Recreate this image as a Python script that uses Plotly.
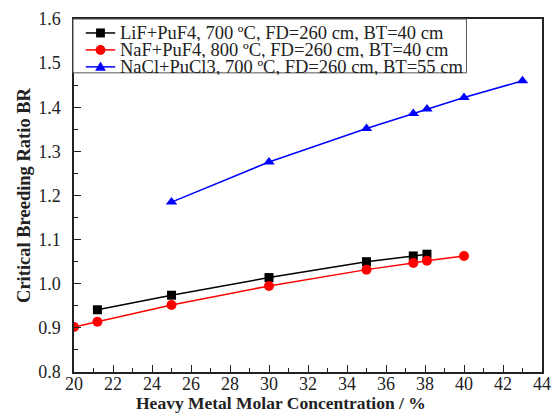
import plotly.graph_objects as go

# Heavy metal molar concentration (%) and critical breeding ratio per salt system
lif_x = [21.2, 25, 30, 35, 37.4, 38.1]
lif_br = [0.941, 0.974, 1.014, 1.050, 1.063, 1.067]

naf_x = [20, 21.2, 25, 30, 35, 37.4, 38.1, 40]
naf_br = [0.902, 0.914, 0.952, 0.995, 1.032, 1.047, 1.052, 1.063]

nacl_x = [25, 30, 35, 37.4, 38.1, 40, 43]
nacl_br = [1.185, 1.276, 1.352, 1.386, 1.396, 1.422, 1.460]

names = [
    "LiF+PuF4, 700 ºC, FD=260 cm, BT=40 cm",
    "NaF+PuF4, 800 ºC, FD=260 cm, BT=40 cm",
    "NaCl+PuCl3, 700 ºC, FD=260 cm, BT=55 cm",
]
colors = ["black", "red", "blue"]
symbols = ["square", "circle", "triangle-up"]

FONT = "Liberation Serif, Times New Roman, serif"
INK = "#222"

W, H = 560, 413
L, R, T, B = 74, 9, 18, 41
PW, PH = W - L - R, H - T - B


def px(xp):
    """Horizontal pixel position -> paper fraction of the plot area."""
    return (xp - L) / PW


def py(yp):
    """Vertical pixel position (from top) -> paper fraction of the plot area."""
    return (H - B - yp) / PH


fig = go.Figure()
series = [(lif_x, lif_br, 9), (naf_x, naf_br, 10), (nacl_x, nacl_br, 10)]
for (xs, ys, ms), name, c, sym in zip(series, names, colors, symbols):
    fig.add_trace(go.Scatter(x=xs, y=ys, mode="lines+markers", name=name,
                             line=dict(color=c, width=1.5),
                             marker=dict(symbol=sym, size=ms, color=c),
                             showlegend=False))

# Hand-built legend box in the upper-left corner of the plot area
shapes = [dict(type="rect", xref="paper", yref="paper",
               x0=px(73), x1=px(474), y0=py(72), y1=py(18),
               line=dict(color="#555", width=1), fillcolor="white", layer="above")]
annotations = []
row_y = [32, 49, 66]
for i, (name, c) in enumerate(zip(names, colors)):
    yc = row_y[i]
    shapes.append(dict(type="line", xref="paper", yref="paper",
                       x0=px(86), x1=px(116), y0=py(yc), y1=py(yc),
                       line=dict(color=c, width=1.5), layer="above"))
    mx = 101
    if symbols[i] == "square":
        shapes.append(dict(type="rect", xref="paper", yref="paper",
                           x0=px(mx - 4.5), x1=px(mx + 4.5), y0=py(yc + 4.5), y1=py(yc - 4.5),
                           line=dict(width=0), fillcolor=c, layer="above"))
    elif symbols[i] == "circle":
        shapes.append(dict(type="circle", xref="paper", yref="paper",
                           x0=px(mx - 5), x1=px(mx + 5), y0=py(yc + 5), y1=py(yc - 5),
                           line=dict(width=0), fillcolor=c, layer="above"))
    else:
        path = "M {:.5f} {:.5f} L {:.5f} {:.5f} L {:.5f} {:.5f} Z".format(
            px(mx - 5.5), py(yc + 4), px(mx + 5.5), py(yc + 4), px(mx), py(yc - 5.5))
        shapes.append(dict(type="path", xref="paper", yref="paper", path=path,
                           line=dict(width=0), fillcolor=c, layer="above"))
    annotations.append(dict(xref="paper", yref="paper", x=px(119), y=py(yc),
                            xanchor="left", yanchor="middle", showarrow=False,
                            height=17, valign="middle",
                            text=name, font=dict(family=FONT, size=18.5, color=INK)))

# x-axis title, slightly left of the plot centre, along the bottom edge
annotations.append(dict(xref="paper", yref="paper", x=px(285), y=py(415),
                        xanchor="center", yanchor="bottom", showarrow=False,
                        text="<b>Heavy Metal Molar Concentration / %</b>",
                        font=dict(family=FONT, size=17.5, color=INK)))

fig.update_layout(
    width=W, height=H,
    margin=dict(l=L, r=R, t=T, b=B),
    paper_bgcolor="white", plot_bgcolor="white",
    font=dict(family=FONT, color=INK),
    showlegend=False,
    shapes=shapes,
    annotations=annotations,
)

fig.update_xaxes(
    range=[20, 44], tickmode="linear", tick0=20, dtick=2,
    ticks="inside", ticklen=7, tickwidth=1.2, tickcolor=INK,
    minor=dict(ticks="inside", ticklen=4, dtick=1, tickcolor=INK),
    showline=True, linecolor=INK, linewidth=1.5, mirror=True,
    showgrid=False, zeroline=False, ticklabelstandoff=-5,
    tickfont=dict(family=FONT, size=18, color=INK),
)
fig.update_yaxes(
    range=[0.8, 1.6], tickmode="linear", tick0=0.8, dtick=0.1, tickformat=".1f",
    ticks="inside", ticklen=7, tickwidth=1.2, tickcolor=INK,
    minor=dict(ticks="inside", ticklen=4, dtick=0.05, tickcolor=INK),
    showline=True, linecolor=INK, linewidth=1.5, mirror=True,
    showgrid=False, zeroline=False, ticklabelstandoff=8,
    tickfont=dict(family=FONT, size=18, color=INK),
    title=dict(text="<b>Critical Breeding Ratio BR</b>",
               font=dict(family=FONT, size=18.5, color=INK), standoff=3),
)

fig.write_html("out.html")
